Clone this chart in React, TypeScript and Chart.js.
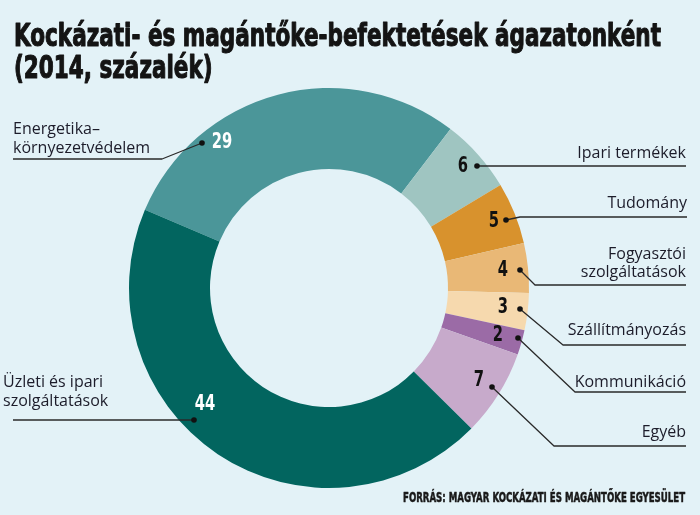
import React, { useEffect, useRef } from "react";
import { Chart, registerables } from "chart.js";

Chart.register(...registerables);

const TITLE_LINES = ["Kockázati- és magántőke-befektetések ágazatonként", "(2014, százalék)"];
const SOURCE = "FORRÁS: MAGYAR KOCKÁZATI ÉS MAGÁNTŐKE EGYESÜLET";

const categories = [
  "Energetika–környezetvédelem",
  "Ipari termékek",
  "Tudomány",
  "Fogyasztói szolgáltatások",
  "Szállítmányozás",
  "Kommunikáció",
  "Egyéb",
  "Üzleti és ipari szolgáltatások",
];
const values = [29, 6, 5, 4, 3, 2, 7, 44];
const colors = ["#4b9699", "#9fc5c1", "#d8922d", "#e9b876", "#f6d9ae", "#9b6ba6", "#c7aacb", "#02655f"];
const labelLines = [
  ["Energetika–", "környezetvédelem"],
  ["Ipari termékek"],
  ["Tudomány"],
  ["Fogyasztói", "szolgáltatások"],
  ["Szállítmányozás"],
  ["Kommunikáció"],
  ["Egyéb"],
  ["Üzleti és ipari", "szolgáltatások"],
];
const numberColors = ["#ffffff", "#111111", "#111111", "#111111", "#111111", "#111111", "#111111", "#ffffff"];

// annotation layout (relative to a reference center 329,288)
const REF_CX = 329;
const REF_CY = 288;
type Ann = {
  num: [number, number];
  path: [number, number][];
  textX: number;
  align: CanvasTextAlign;
  baselines: number[];
};
const annotations: Ann[] = [
  { num: [222, 143], path: [[202, 143], [162, 159], [13, 159]], textX: 13, align: "left", baselines: [134, 153] },
  { num: [463, 167], path: [[477, 166], [686, 166]], textX: 686, align: "right", baselines: [158] },
  { num: [494, 222], path: [[506, 220], [520, 217], [687, 217]], textX: 687, align: "right", baselines: [208] },
  { num: [503, 271], path: [[520, 270], [535, 285], [686, 285]], textX: 686, align: "right", baselines: [259, 277] },
  { num: [503, 308], path: [[520, 309], [563, 345], [686, 345]], textX: 686, align: "right", baselines: [335] },
  { num: [498, 336], path: [[518, 338], [575, 392], [686, 392]], textX: 686, align: "right", baselines: [387] },
  { num: [479, 381], path: [[492, 387], [554, 446], [686, 446]], textX: 686, align: "right", baselines: [437] },
  { num: [205, 405], path: [[194, 420], [13, 420]], textX: 3, align: "left", baselines: [387, 406] },
];

const CONDENSED = '"DejaVu Sans Condensed", "Liberation Sans Narrow", sans-serif';
const LABEL_FONT = '16px "Open Sans", "Noto Sans", sans-serif';

const decorPlugin = {
  id: "decor",
  afterDraw(chart: any) {
    const ctx: CanvasRenderingContext2D = chart.ctx;
    const arc = chart.getDatasetMeta(0).data[0];
    const ox = arc.x - REF_CX;
    const oy = arc.y - REF_CY;

    ctx.save();
    // Title
    ctx.fillStyle = "#141414";
    ctx.strokeStyle = "#141414";
    ctx.lineJoin = "round";
    ctx.font = "bold 32px " + CONDENSED;
    ctx.textBaseline = "alphabetic";
    ctx.textAlign = "left";
    const w1 = ctx.measureText(TITLE_LINES[0]).width;
    const s = 647 / w1;
    ctx.save();
    ctx.scale(s, 1);
    ctx.lineWidth = 1.1;
    ctx.fillText(TITLE_LINES[0], 14 / s, 46);
    ctx.strokeText(TITLE_LINES[0], 14 / s, 46);
    ctx.fillText(TITLE_LINES[1], 14 / s, 78);
    ctx.strokeText(TITLE_LINES[1], 14 / s, 78);
    ctx.restore();

    // Source
    ctx.font = "bold 14px " + CONDENSED;
    const ws = ctx.measureText(SOURCE).width;
    const s2 = 282 / ws;
    ctx.save();
    ctx.scale(s2, 1);
    ctx.fillStyle = "#1a1a1a";
    ctx.strokeStyle = "#1a1a1a";
    ctx.lineWidth = 0.5;
    ctx.fillText(SOURCE, 403 / s2, 502);
    ctx.strokeText(SOURCE, 403 / s2, 502);
    ctx.restore();

    // Annotations
    annotations.forEach((a, i) => {
      ctx.strokeStyle = "#2a2a2a";
      ctx.lineWidth = 1.3;
      ctx.beginPath();
      a.path.forEach(([x, y], k) => {
        if (k === 0) ctx.moveTo(x + ox, y + oy);
        else ctx.lineTo(x + ox, y + oy);
      });
      ctx.stroke();
      const [dx, dy] = a.path[0];
      ctx.fillStyle = "#111";
      ctx.beginPath();
      ctx.arc(dx + ox, dy + oy, 2.8, 0, Math.PI * 2);
      ctx.fill();

      ctx.font = LABEL_FONT;
      ctx.fillStyle = "#1c1c2a";
      ctx.textAlign = a.align;
      ctx.textBaseline = "alphabetic";
      labelLines[i].forEach((t, k) => {
        ctx.fillText(t, a.textX, a.baselines[k]);
      });

      ctx.save();
      ctx.font = "bold 21px " + CONDENSED;
      ctx.fillStyle = numberColors[i];
      ctx.textAlign = "center";
      ctx.textBaseline = "middle";
      const ns = 0.78;
      ctx.scale(ns, 1);
      ctx.fillText(String(values[i]), (a.num[0] + ox) / ns, a.num[1] + oy);
      ctx.restore();
    });
    ctx.restore();
  },
};

const bgPlugin = {
  id: "bg",
  beforeDraw(chart: any) {
    const ctx = chart.ctx;
    ctx.save();
    ctx.fillStyle = "#e3f2f7";
    ctx.fillRect(0, 0, chart.width, chart.height);
    ctx.restore();
  },
};

export default function App() {
  const ref = useRef<HTMLCanvasElement | null>(null);
  useEffect(() => {
    if (!ref.current) return;
    const chart = new Chart(ref.current, {
      type: "doughnut",
      data: {
        labels: categories,
        datasets: [
          {
            data: values,
            backgroundColor: colors,
            borderWidth: 0,
          },
        ],
      },
      options: {
        animation: false,
        responsive: false,
        rotation: -67,
        cutout: "59.5%",
        layout: { padding: { left: 129, right: 171, top: 88, bottom: 27 } },
        plugins: {
          legend: { display: false },
          tooltip: { enabled: false },
          title: { display: false },
        },
      },
      plugins: [bgPlugin, decorPlugin],
    });
    return () => chart.destroy();
  }, []);
  return (
    <div style={{ position: "fixed", left: 0, top: 0, width: 700, height: 515, background: "#e3f2f7" }}>
      <canvas ref={ref} width={700} height={515} style={{ width: 700, height: 515, display: "block" }} />
    </div>
  );
}
